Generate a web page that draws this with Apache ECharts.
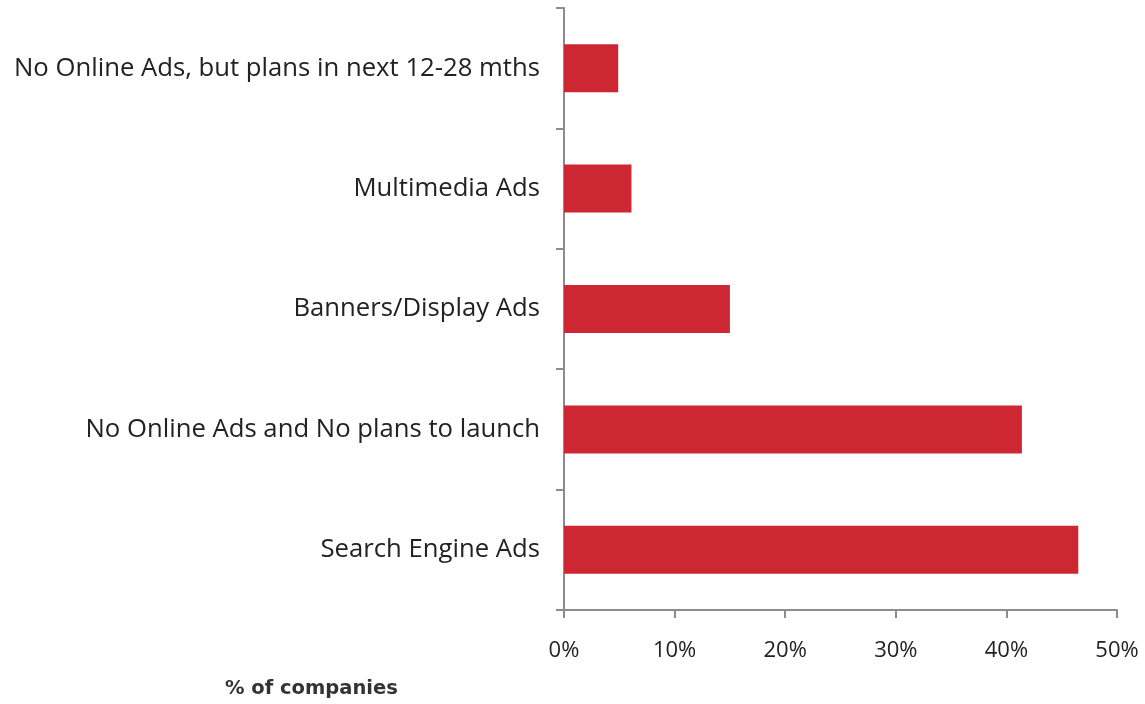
<!DOCTYPE html>
<html>
<head>
<meta charset="utf-8">
<script src="https://cdn.jsdelivr.net/npm/echarts@6/dist/echarts.min.js"></script>
<style>
  html, body { margin: 0; padding: 0; background: #fff; }
  #chart { width: 1145px; height: 704px; }
</style>
</head>
<body>
<div id="chart"></div>
<script>
// Online advertising types, share of companies (%)
const categories = [
  'Search Engine Ads',
  'No Online Ads and No plans to launch',
  'Banners/Display Ads',
  'Multimedia Ads',
  'No Online Ads, but plans in next 12-28 mths'
];
const shares = [46.5, 41.4, 15.0, 6.1, 4.9];
const xTicks = [0, 10, 20, 30, 40, 50];

const font = '"Open Sans", "DejaVu Sans", sans-serif';
const axisGray = '#8c8c8c';

const chart = echarts.init(document.getElementById('chart'));
chart.setOption({
  animation: false,
  grid: { left: 564, right: 28, top: 8, bottom: 94 },
  xAxis: {
    type: 'value',
    min: xTicks[0],
    max: xTicks[xTicks.length - 1],
    interval: xTicks[1] - xTicks[0],
    axisLine: { show: true, lineStyle: { color: axisGray, width: 2 } },
    axisTick: { show: true, length: 8, lineStyle: { color: axisGray, width: 2 } },
    splitLine: { show: false },
    axisLabel: {
      formatter: '{value}%',
      margin: 30,
      fontFamily: font,
      fontSize: 22,
      color: '#222'
    }
  },
  yAxis: {
    type: 'category',
    data: categories,
    axisLine: { show: true, lineStyle: { color: axisGray, width: 2 } },
    axisTick: { show: true, length: 8, lineStyle: { color: axisGray, width: 2 } },
    axisLabel: {
      margin: 24,
      fontFamily: font,
      fontSize: 25.7,
      color: '#222'
    }
  },
  series: [{
    type: 'bar',
    data: shares,
    barWidth: 48,
    itemStyle: { color: '#cc2733' }
  }],
  graphic: [{
    type: 'text',
    left: 225,
    top: 679,
    style: {
      text: '% of companies',
      font: 'bold 19.5px "DejaVu Sans", sans-serif',
      fill: '#333'
    }
  }]
});
</script>
</body>
</html>
